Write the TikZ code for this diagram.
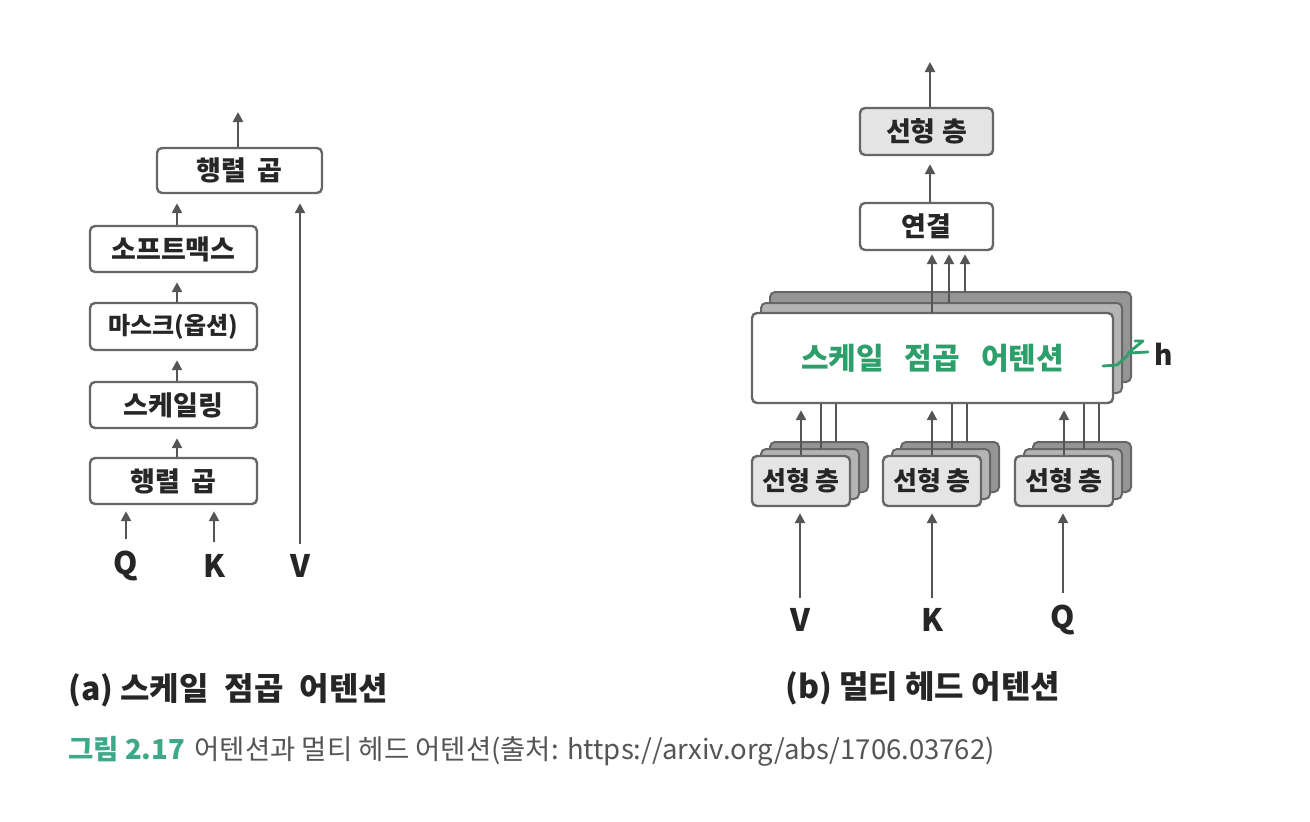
\documentclass[tikz,border=0pt]{standalone}
\usepackage{fontspec}
\setmainfont{Noto Sans CJK KR}
\usetikzlibrary{arrows.meta}
\definecolor{edge}{HTML}{666666}
\definecolor{arrowc}{HTML}{555555}
\definecolor{boxfill}{HTML}{E4E4E4}
\definecolor{layA}{HTML}{B4B4B4}
\definecolor{layB}{HTML}{959595}
\definecolor{grn}{HTML}{2E9E6A}
\definecolor{teal}{HTML}{3FA889}
\definecolor{captxt}{HTML}{555555}
\tikzset{
  bx/.style={draw=edge, line width=2.4pt, rounded corners=5pt, fill=white, inner sep=0pt, font=\fontsize{27}{29}\selectfont\bfseries, text=black!85},
  gbx/.style={bx, fill=boxfill},
  layer/.style={draw=edge, line width=2pt, rounded corners=5pt},
  arr/.style={draw=arrowc, line width=2.4pt, -{Triangle[length=10pt,width=10pt]}},
  ln/.style={draw=arrowc, line width=2.4pt},
  lbl/.style={font=\fontsize{31}{33}\selectfont\bfseries, text=black!85, inner sep=0pt},
  capsty/.style={font=\fontsize{32}{34}\selectfont\bfseries, text=black!85, anchor=west, inner sep=0pt},
}
\begin{document}
\begin{tikzpicture}[x=1pt,y=-1pt]
\useasboundingbox[fill=white] (0,0) rectangle (1310,822);

% ---------- (a) ----------
\node[bx, minimum width=165pt, minimum height=45pt] (mt) at (239.5,170.5) {행렬\hspace{0.45em}곱};
\node[bx, minimum width=167pt, minimum height=46pt] (sm) at (173.5,249) {소프트맥스};
\node[bx, minimum width=167pt, minimum height=47pt, font=\fontsize{24}{26}\selectfont\bfseries] (mk) at (173.5,326.5) {마스크(옵션)};
\node[bx, minimum width=167pt, minimum height=46pt] (sc) at (173.5,405) {스케일링};
\node[bx, minimum width=167pt, minimum height=46pt] (mb) at (173.5,481) {행렬\hspace{0.45em}곱};

\node[lbl] (qa) at (126,566) {Q};
\node[lbl] (ka) at (214,566) {K};
\node[lbl] (va) at (300,566) {V};
\coordinate (outa) at (238,112);

\draw[arr] ([xshift=-1.5pt]mt.north) -- (outa);
\draw[arr, shorten >=9pt] ([xshift=3.5pt]sm.north) -- ([xshift=3.5pt]sm.north |- mt.south);
\draw[arr, shorten >=9pt] ([xshift=3.5pt]mk.north) -- ([xshift=3.5pt]mk.north |- sm.south);
\draw[arr, shorten >=9pt] ([xshift=3.5pt]sc.north) -- ([xshift=3.5pt]sc.north |- mk.south);
\draw[arr, shorten >=9pt] ([xshift=3.5pt]mb.north) -- ([xshift=3.5pt]mb.north |- sc.south);
\draw[arr, shorten <=12pt, shorten >=6pt] (qa.north) -- (qa.north |- mb.south);
\draw[arr, shorten <=12pt, shorten >=6pt] (ka.north) -- (ka.north |- mb.south);
\draw[arr, shorten <=10pt, shorten >=9pt] (va.north) -- (va.north |- mt.south);

\node[capsty] (capa) at (68,690) {(a) 스케일\hspace{0.5em}점곱\hspace{0.5em}어텐션};

% ---------- (b) ----------
\node[gbx, minimum width=133pt, minimum height=47pt] (lt) at (926.5,131.5) {선형 층};
\node[bx, minimum width=133pt, minimum height=47pt] (cc) at (926.5,226.5) {연결};
\coordinate (outb) at (930,62);
\draw[arr] ([xshift=3.5pt]lt.north) -- (outb);
\draw[arr, shorten >=8pt] ([xshift=3.5pt]cc.north) -- ([xshift=3.5pt]cc.north |- lt.south);

% big stacked box
\draw[layer, fill=layB] (770,292) rectangle (1131,382);
\draw[layer, fill=layA] (761,303) rectangle (1122,393);
\node[bx, minimum width=361pt, minimum height=90pt, font=\fontsize{30}{32}\selectfont\bfseries, text=grn] (sd) at (932.5,358) {스케일\hspace{0.7em}점곱\hspace{0.7em}어텐션};

\coordinate (sdA) at (932,313);
\coordinate (sdB) at (949,303);
\coordinate (sdC) at (965,292);
\draw[arr, shorten >=3pt] (sdA) -- (sdA |- cc.south);
\draw[arr, shorten >=3pt] (sdB) -- (sdB |- cc.south);
\draw[arr, shorten >=3pt] (sdC) -- (sdC |- cc.south);

% h marker
\draw[grn, line width=2.8pt, line join=round, line cap=round] (1103,366) -- (1117,365) -- (1128,355);
\draw[grn, line width=2.8pt, line join=round, line cap=round] (1135,341) -- (1143,341) -- (1128,353) -- (1148,352);
\node[font=\fontsize{28}{30}\selectfont\bfseries, text=black!85] (hh) at (1164,354) {h};

% small stacks
\foreach \nm/\cx in {sv/801, sk/932, sq/1064}{
  \draw[layer, fill=layB] (\cx-49+18,456-14) rectangle (\cx+49+18,506-14);
  \draw[layer, fill=layA] (\cx-49+9,456-7) rectangle (\cx+49+9,506-7);
  \node[gbx, minimum width=98pt, minimum height=50pt, font=\fontsize{26}{28}\selectfont\bfseries] (\nm) at (\cx,481) {선형\hspace{0.2em}층};
}
\foreach \nm/\cx in {sv/801, sk/932, sq/1064}{
  \draw[arr, shorten >=6pt] (\nm.north) -- (\nm.north |- sd.south);
  \coordinate (\nm B) at (\cx+20,449);
  \coordinate (\nm C) at (\cx+35,442);
  \draw[ln] (\nm B) -- (\nm B |- sd.south);
  \draw[ln] (\nm C) -- (\nm C |- sd.south);
}

\node[lbl] (vb) at (800,620) {V};
\node[lbl] (kb) at (932,620) {K};
\node[lbl] (qb) at (1063,620) {Q};
\draw[arr, shorten <=10pt, shorten >=6pt] (vb.north) -- (vb.north |- sv.south);
\draw[arr, shorten <=10pt, shorten >=6pt] (kb.north) -- (kb.north |- sk.south);
\draw[arr, shorten <=12pt, shorten >=6pt] (qb.north) -- (qb.north |- sq.south);

\node[capsty] (capb) at (785,688) {(b) 멀티 헤드 어텐션};

% figure caption
\node[anchor=west, inner sep=0pt, font=\fontsize{27.5}{30}\selectfont, text=captxt] (fig) at (68,751)
  {{\bfseries\color{teal}그림 2.17}\hspace{0.35em}어텐션과 멀티 헤드 어텐션(출처: https://arxiv.org/abs/1706.03762)};
\end{tikzpicture}
\end{document}
